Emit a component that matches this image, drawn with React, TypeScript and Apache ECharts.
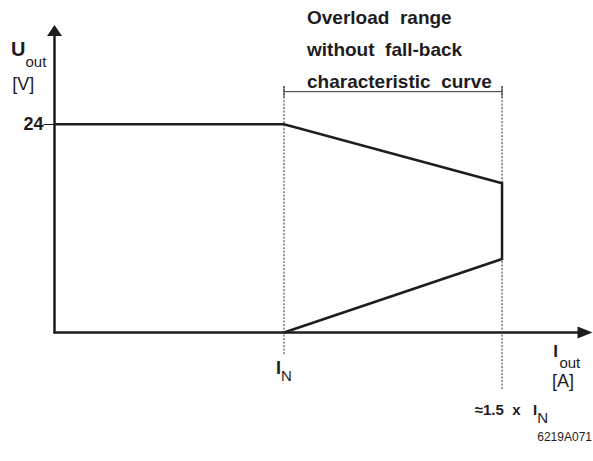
import React, { useEffect, useRef } from 'react';
import * as echarts from 'echarts';

// Schematic data (x in units of I_N positions on the drawing, y in volts)
const CURVE_X = [0, 1, 1.95, 1.95, 1];
const CURVE_Y = [24, 24, 17.2, 8.47, 0];
const MARK_X = [1, 1.95];
const MARK_TOP = [28.4, 28.4];
const MARK_BOTTOM = [-2.6, -6.7];
const BRACKET_Y = 27.76;
const BRACKET_TICK_BOTTOM = 27.1;
const Y_TICKS = [24];
const X_MAX = 2.3115;
const Y_MAX = 34.81;
const MARK_MAIN = ['I', '≈1.5\u00a0\u00a0x\u00a0\u00a0\u00a0I'];
const MARK_SUB = ['N', 'N'];
const TITLE_LINES = [
  'Overload\u00a0\u00a0range',
  'without\u00a0\u00a0fall-back',
  'characteristic\u00a0\u00a0curve',
];
const Y_NAME = ['U', 'out', '[V]'];
const X_NAME = ['I', 'out', '[A]'];
const FOOTNOTE = '6219A071';

const FONT = '"Liberation Sans", Arial, sans-serif';
const INK = '#1e1c1d';

export default function App() {
  const ref = useRef<HTMLDivElement>(null);

  useEffect(() => {
    if (!ref.current) return;
    const chart = echarts.init(ref.current, undefined, { renderer: 'svg' });

    const curve = CURVE_X.map((x, i) => [x, CURVE_Y[i]]);
    const markSeries = MARK_X.map((x, i) => ({
      type: 'line',
      data: [
        [x, MARK_TOP[i]],
        [x, MARK_BOTTOM[i]],
      ],
      symbol: 'none',
      clip: false,
      z: 1,
      lineStyle: { color: '#333', width: 1, type: [2, 1.5] },
    }));
    const bracketTicks = MARK_X.map((x) => ({
      type: 'line',
      data: [
        [x, MARK_TOP[0]],
        [x, BRACKET_TICK_BOTTOM],
      ],
      symbol: 'none',
      clip: false,
      z: 2,
      lineStyle: { color: '#333', width: 1 },
    }));

    const txt = (
      text: string,
      x: number,
      y: number,
      size: number,
      bold: boolean,
      align: string = 'left'
    ) => ({
      type: 'text',
      x,
      y,
      style: {
        text,
        fontSize: size,
        fontWeight: bold ? 'bold' : 'normal',
        fontFamily: FONT,
        fill: INK,
        align,
        verticalAlign: 'middle',
      },
    });

    chart.setOption({
      animation: false,
      backgroundColor: '#ffffff',
      title: {
        text: TITLE_LINES.join('\n'),
        left: 307,
        top: 1,
        padding: 0,
        textStyle: {
          fontSize: 19,
          fontWeight: 'bold',
          lineHeight: 32,
          color: INK,
          fontFamily: FONT,
        },
      },
      grid: { left: 54.5, right: 8, top: 30.5, bottom: 128.5, containLabel: false },
      xAxis: {
        type: 'value',
        min: 0,
        max: X_MAX,
        axisLine: {
          show: true,
          onZero: false,
          symbol: ['none', 'triangle'],
          symbolSize: [12, 15],
          lineStyle: { color: INK, width: 2.5 },
        },
        axisTick: { show: false },
        splitLine: { show: false },
        axisLabel: {
          customValues: MARK_X,
          margin: 26,
          formatter: (v: number) => {
            const i = Math.abs(v - MARK_X[0]) < 1e-6 ? 0 : 1;
            return i === 0
              ? `{b|${MARK_MAIN[0]}}{s|${MARK_SUB[0]}}`
              : `{sp| }\n{w| }{c|${MARK_MAIN[1]}}{n|${MARK_SUB[1]}}`;
          },
          rich: {
            b: { fontSize: 18, fontWeight: 'bold', fontFamily: FONT, color: INK, lineHeight: 20, verticalAlign: 'top' },
            s: { fontSize: 15, fontFamily: FONT, color: INK, lineHeight: 34 },
            sp: { fontSize: 10, lineHeight: 43 },
            w: { width: 18.8, fontSize: 15, lineHeight: 15, verticalAlign: 'top' },
            c: { fontSize: 15, fontWeight: 'bold', fontFamily: FONT, color: INK, lineHeight: 15, verticalAlign: 'top' },
            n: { fontSize: 15, fontFamily: FONT, color: INK, lineHeight: 23.5, verticalAlign: 'bottom' },
          },
        },
      },
      yAxis: {
        type: 'value',
        min: 0,
        max: Y_MAX,
        axisLine: {
          show: true,
          onZero: false,
          symbol: ['none', 'triangle'],
          symbolSize: [15, 11],
          lineStyle: { color: INK, width: 2.5 },
        },
        axisTick: {
          show: true,
          customValues: Y_TICKS,
          length: 11,
          lineStyle: { color: INK, width: 1 },
        },
        splitLine: { show: false },
        axisLabel: {
          customValues: Y_TICKS,
          margin: 11,
          fontSize: 18,
          fontWeight: 'bold',
          fontFamily: FONT,
          color: INK,
        },
      },
      series: [
        ...markSeries,
        {
          type: 'line',
          data: [
            [MARK_X[0], BRACKET_Y],
            [MARK_X[1], BRACKET_Y],
          ],
          symbol: 'none',
          clip: false,
          z: 2,
          lineStyle: { color: '#333', width: 1 },
        },
        ...bracketTicks,
        {
          type: 'line',
          data: curve,
          symbol: 'none',
          clip: false,
          z: 5,
          lineStyle: { color: INK, width: 2.5, join: 'miter' },
        },
      ],
      graphic: [
        txt(Y_NAME[0], 11, 48.8, 20, true),
        txt(Y_NAME[1], 25.5, 61.5, 15, false),
        txt(Y_NAME[2], 12.2, 84, 18, false),
        txt(X_NAME[0], 553.2, 351.2, 17, true),
        txt(X_NAME[1], 559.4, 362.8, 15, false),
        txt(X_NAME[2], 552, 381, 18, false),
        txt(FOOTNOTE, 592, 437, 12, false, 'right'),
      ],
    });

    return () => chart.dispose();
  }, []);

  return (
    <div
      ref={ref}
      style={{ position: 'absolute', left: 0, top: 0, width: 593, height: 461, background: '#fff' }}
    />
  );
}
